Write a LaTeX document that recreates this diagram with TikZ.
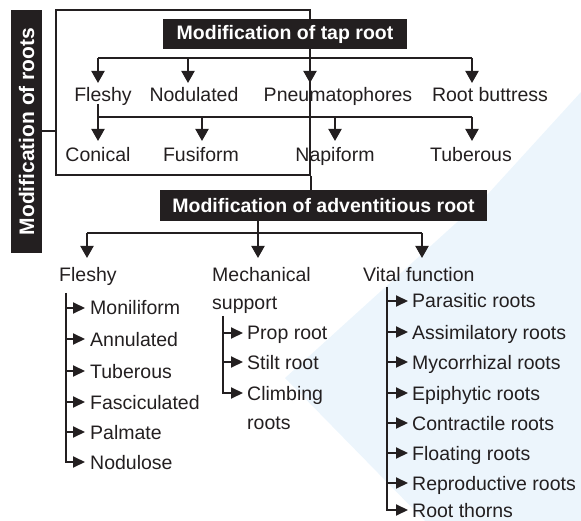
\documentclass[tikz,border=0pt]{standalone}
\usepackage{fontspec}
\setmainfont{Liberation Sans}
\usetikzlibrary{arrows.meta}
\definecolor{ink}{RGB}{35,31,32}
\definecolor{wm}{RGB}{236,245,252}
\begin{document}
\begin{tikzpicture}[x=1pt,y=-1pt,
  every node/.style={text=ink, inner sep=0pt, font=\fontsize{19.5}{23}\selectfont},
  lbl/.style={anchor=base west},
  clbl/.style={anchor=base},
  head/.style={fill=ink, text=white, inner sep=0pt, font=\bfseries\fontsize{19.5}{23}\selectfont},
  line/.style={draw=ink, line width=2pt},
  down/.style={line, -{Triangle[width=13pt,length=12pt]}},
  side/.style={line, -{Triangle[width=11pt,length=12pt]}}
]
\useasboundingbox (0,0) rectangle (581,521);
% faint watermark
\fill[wm] (487,195) -- (581,92) -- (581,521) -- (425,521) -- (285,378) -- cycle;

% frame of the tap-root group
\node[line, minimum width=254pt, minimum height=165pt] (tapframe) at (183,92.5) {};
% left vertical title
\node[head, minimum width=243pt, minimum height=31pt, rotate=90,
      font=\bfseries\fontsize{21}{24}\selectfont] (roots) at (26.5,131.5) {Modification of roots};
\draw[line] (roots.south) -- (roots.south -| tapframe.west);

% tap root heading
\node[head, minimum width=244pt, minimum height=30pt] (taphead) at (285,34) {Modification of tap root};

% first row
\node[clbl] (tFleshy) at (103,102) {Fleshy};
\node[clbl] (tNodul) at (194,102) {Nodulated};
\node[clbl] (tPneu) at (338,102) {Pneumatophores};
\node[clbl] (tButt) at (490,102) {Root buttress};
% second row
\node[clbl] (tCon) at (98,162) {Conical};
\node[clbl] (tFusi) at (201,162) {Fusiform};
\node[clbl] (tNapi) at (335,162) {Napiform};
\node[clbl] (tTub) at (471,162) {Tuberous};

% connectors of tap root
\coordinate (bar1) at (0,58);
\coordinate (tip1) at (0,83);
\coordinate (bar2) at (0,117);
\coordinate (tip2) at (0,141);
\coordinate (xF) at (98,104);
\coordinate (xN) at (188,0);
\coordinate (xP) at (310,0);
\coordinate (xR) at (472,0);
\coordinate (xFu) at (202,0);
\coordinate (xNa) at (335,0);
\draw[line] (xF |- bar1) -- (xR |- bar1);
\draw[down] (xF |- bar1) -- (xF |- tip1);
\draw[down] (xN |- bar1) -- (xN |- tip1);
\draw[down] (xP |- bar1) -- (xP |- tip1);
\draw[down] (xR |- bar1) -- (xR |- tip1);
\draw[line] (xF |- bar2) -- (xR |- bar2);
\draw[down] (xF) -- (xF |- tip2);
\draw[down] (xFu |- bar2) -- (xFu |- tip2);
\draw[down] (xNa |- bar2) -- (xNa |- tip2);
\draw[down] (xR |- bar2) -- (xR |- tip2);

% adventitious root heading
\node[head, minimum width=327pt, minimum height=31pt] (advhead) at (323.5,205.5) {Modification of adventitious root};
\draw[line] (tapframe.south east) -- (tapframe.south east |- advhead.north);

\node[lbl] (aFleshy) at (59,282) {Fleshy};
\node[lbl] (aMech) at (212,282) {Mechanical};
\node[lbl] (aSupp) at (212,309) {support};
\node[lbl] (aVital) at (363,282) {Vital function};

\coordinate (bar3) at (0,233);
\coordinate (tip3) at (0,258);
\coordinate (xa1) at (87,0);
\coordinate (xa2) at (258,0);
\coordinate (xa3) at (422,0);
\draw[line] (advhead.south -| xa2) -- (xa2 |- bar3);
\draw[line] (xa1 |- bar3) -- (xa3 |- bar3);
\draw[down] (xa1 |- bar3) -- (xa1 |- tip3);
\draw[down] (xa2 |- bar3) -- (xa2 |- tip3);
\draw[down] (xa3 |- bar3) -- (xa3 |- tip3);

% fleshy list
\coordinate (fsp) at (66,293);
\foreach \b/\t/\n in {315/Moniliform/fa,346/Annulated/fb,378/Tuberous/fc,409/Fasciculated/fd,439/Palmate/fe}{
  \node[lbl] (\n) at (90,\b) {\t};
  \draw[side] (fsp |- \n.base) ++(0,-7) -- ([shift={(-5,-7)}]\n.base west);
}
\node[lbl] (ff) at (90,469) {Nodulose};
\draw[side] (fsp) |- ([shift={(-5,-7)}]ff.base west);

% mechanical list
\coordinate (msp) at (223,316);
\foreach \b/\t/\n in {340/Prop root/ma,369/Stilt root/mb}{
  \node[lbl] (\n) at (247,\b) {\t};
  \draw[side] (msp |- \n.base) ++(0,-7) -- ([shift={(-4,-7)}]\n.base west);
}
\node[lbl] (mc) at (247,400) {Climbing};
\node[lbl] (mc2) at (247,429) {roots};
\draw[side] (msp) |- ([shift={(-4,-7)}]mc.base west);

% vital list
\coordinate (vsp) at (387,287);
\foreach \b/\t/\n in {308/Parasitic roots/va,339/Assimilatory roots/vb,369/Mycorrhizal roots/vc,400/Epiphytic roots/vd,430/Contractile roots/ve,460/Floating roots/vf,490/Reproductive roots/vg}{
  \node[lbl] (\n) at (412,\b) {\t};
  \draw[side] (vsp |- \n.base) ++(0,-7) -- ([shift={(-4,-7)}]\n.base west);
}
\node[lbl] (vh) at (412,517) {Root thorns};
\draw[side] (vsp) |- ([shift={(-4,-7)}]vh.base west);
\end{tikzpicture}
\end{document}
